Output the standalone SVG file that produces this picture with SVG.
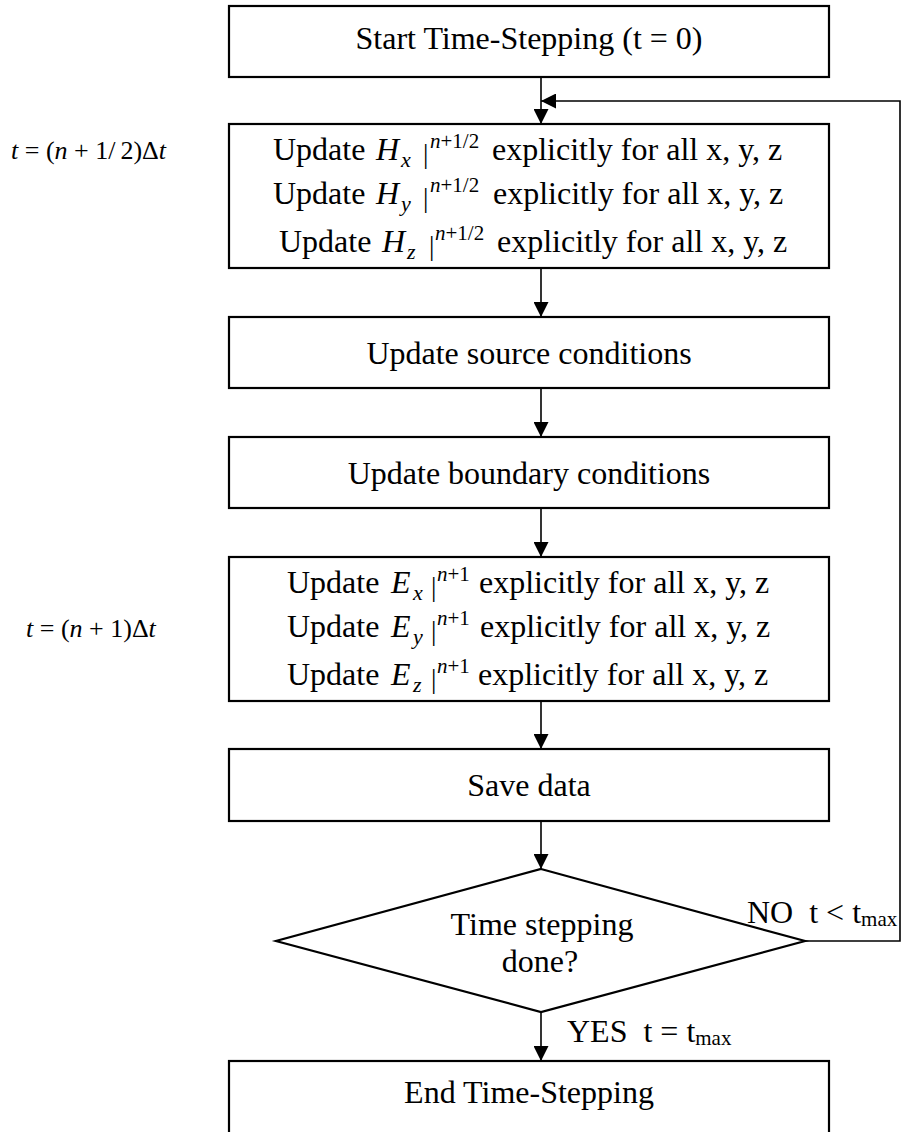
<svg xmlns="http://www.w3.org/2000/svg" width="901" height="1132" viewBox="0 0 901 1132">
  <style>
    text { font-family: "Liberation Serif", "Times New Roman", serif; fill: #000; }
    .t { font-size: 32px; }
    .c { text-anchor: middle; }
    .it { font-style: italic; }
    .sub { font-size: 22px; font-style: italic; }
    .sup { font-size: 21px; }
    .bar { font-size: 27px; }
    .lab { font-size: 26px; }
    .box { fill: #fff; stroke: #000; stroke-width: 2.2; }
    .edge { fill: none; stroke: #000; stroke-width: 1.6; }
  </style>
  <defs>
    <marker id="arrow" viewBox="0 0 15 15" refX="15" refY="7.5" markerWidth="15" markerHeight="15" markerUnits="userSpaceOnUse" orient="auto">
      <path d="M0,0 L15,7.5 L0,15 z" fill="#000"/>
    </marker>
  </defs>
  <rect width="901" height="1132" fill="#fff"/>

  <!-- connectors -->
  <g id="connectors">
    <path class="edge" d="M541,77 V124" marker-end="url(#arrow)"/>
    <path class="edge" d="M541,268 V317" marker-end="url(#arrow)"/>
    <path class="edge" d="M541,388 V437" marker-end="url(#arrow)"/>
    <path class="edge" d="M541,508 V557" marker-end="url(#arrow)"/>
    <path class="edge" d="M541,701 V749" marker-end="url(#arrow)"/>
    <path class="edge" d="M541,821 V869" marker-end="url(#arrow)"/>
    <path class="edge" d="M541,1012 V1061" marker-end="url(#arrow)"/>
    <path class="edge" d="M805,941 H900 V101 H541" marker-end="url(#arrow)"/>
    <text class="t" x="747" y="923" xml:space="preserve">NO  t &lt; t<tspan font-size="21" dy="3">max</tspan></text>
    <text class="t" x="567" y="1042" xml:space="preserve">YES  t = t<tspan font-size="21" dy="3">max</tspan></text>
  </g>

  <!-- start -->
  <g id="start">
    <rect class="box" x="229" y="6" width="600" height="71"/>
    <text class="t c" x="529" y="49">Start Time-Stepping (t = 0)</text>
  </g>

  <!-- magnetic field update -->
  <g id="updateH">
    <rect class="box" x="229" y="124" width="600" height="144"/>
    <text class="t" x="273" y="160">Update</text>
    <text class="t it" x="376" y="160">H</text>
    <text class="sub" x="401" y="167">x</text>
    <text class="bar" x="423" y="163">|</text>
    <text class="sup" x="430" y="148"><tspan class="it">n</tspan>+1/2</text>
    <text class="t" x="492" y="160">explicitly for all x, y, z</text>

    <text class="t" x="273" y="204">Update</text>
    <text class="t it" x="376" y="204">H</text>
    <text class="sub" x="401" y="211">y</text>
    <text class="bar" x="423" y="207">|</text>
    <text class="sup" x="430" y="192"><tspan class="it">n</tspan>+1/2</text>
    <text class="t" x="493" y="204">explicitly for all x, y, z</text>

    <text class="t" x="279" y="252">Update</text>
    <text class="t it" x="382" y="252">H</text>
    <text class="sub" x="407" y="259">z</text>
    <text class="bar" x="429" y="255">|</text>
    <text class="sup" x="435" y="240"><tspan class="it">n</tspan>+1/2</text>
    <text class="t" x="497" y="252">explicitly for all x, y, z</text>
  </g>

  <g id="labelH">
    <text class="lab" x="11" y="159"><tspan class="it">t</tspan> = (<tspan class="it">n</tspan> + 1/<tspan dx="5">2</tspan>)Δ<tspan class="it">t</tspan></text>
  </g>

  <!-- source -->
  <g id="source">
    <rect class="box" x="229" y="317" width="600" height="71"/>
    <text class="t c" x="529" y="364">Update source conditions</text>
  </g>

  <!-- boundary -->
  <g id="boundary">
    <rect class="box" x="229" y="437" width="600" height="71"/>
    <text class="t c" x="529" y="484">Update boundary conditions</text>
  </g>

  <!-- electric field update -->
  <g id="updateE">
    <rect class="box" x="229" y="557" width="600" height="144"/>
    <text class="t" x="287" y="593">Update</text>
    <text class="t it" x="391" y="593">E</text>
    <text class="sub" x="413" y="600">x</text>
    <text class="bar" x="431" y="596">|</text>
    <text class="sup" x="437" y="581"><tspan class="it">n</tspan>+1</text>
    <text class="t" x="479" y="593">explicitly for all x, y, z</text>

    <text class="t" x="287" y="637">Update</text>
    <text class="t it" x="391" y="637">E</text>
    <text class="sub" x="413" y="644">y</text>
    <text class="bar" x="431" y="640">|</text>
    <text class="sup" x="437" y="625"><tspan class="it">n</tspan>+1</text>
    <text class="t" x="480" y="637">explicitly for all x, y, z</text>

    <text class="t" x="287" y="685">Update</text>
    <text class="t it" x="391" y="685">E</text>
    <text class="sub" x="413" y="692">z</text>
    <text class="bar" x="431" y="688">|</text>
    <text class="sup" x="437" y="673"><tspan class="it">n</tspan>+1</text>
    <text class="t" x="478" y="685">explicitly for all x, y, z</text>
  </g>

  <g id="labelE">
    <text class="lab" x="26" y="637"><tspan class="it">t</tspan> = (<tspan class="it">n</tspan> + 1)Δ<tspan class="it">t</tspan></text>
  </g>

  <!-- save -->
  <g id="save">
    <rect class="box" x="229" y="749" width="600" height="72"/>
    <text class="t c" x="529" y="796">Save data</text>
  </g>

  <!-- decision -->
  <g id="decision">
    <polygon class="box" points="541,869 805,941 541,1012 276,941"/>
    <text class="t c" x="542" y="935">Time stepping</text>
    <text class="t c" x="540" y="972">done?</text>
  </g>

  <!-- end -->
  <g id="end">
    <rect class="box" x="229" y="1061" width="600" height="90"/>
    <text class="t c" x="529" y="1103">End Time-Stepping</text>
  </g>
</svg>
